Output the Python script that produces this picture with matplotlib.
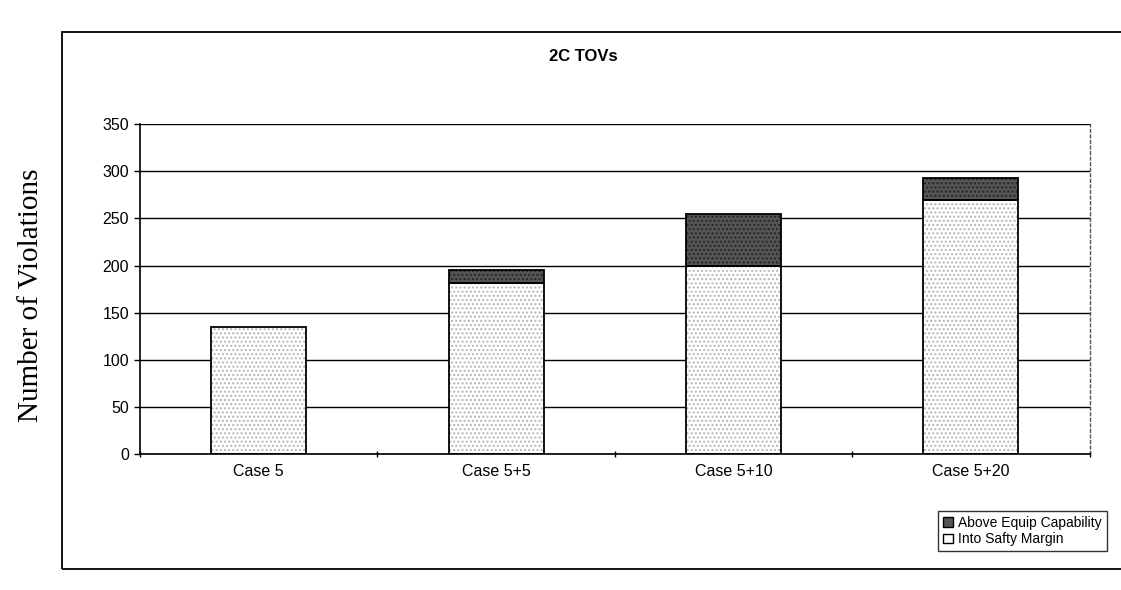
import matplotlib.pyplot as plt
from matplotlib.patches import Patch, Rectangle

# values (relative to the local gridlines)
cases = ["Case 5", "Case 5+5", "Case 5+10", "Case 5+20"]
safety_margin = [135, 181, 200, 269]   # Into Safty Margin
above_equip = [0, 14, 55, 24]          # Above Equip Capability
y_ticks = [0, 50, 100, 150, 200, 250, 300, 350]

plt.rcParams['font.family'] = ['Liberation Sans', 'DejaVu Sans']

fig = plt.figure(figsize=(11.21, 5.90), dpi=100)
ax = fig.add_axes([0.125, 0.23, 0.847, 0.56])

x = range(len(cases))
w = 0.4
light_c = "#ffffff"
dark_c = "#555555"

# fills with dotted texture, then black outlines on top
ax.bar(x, safety_margin, w, color=light_c, edgecolor="#b5b5b5", hatch="....", linewidth=0, zorder=2)
ax.bar(x, above_equip, w, bottom=safety_margin, color=dark_c, edgecolor="#252525",
       hatch="....", linewidth=0, zorder=2)
ax.bar(x, safety_margin, w, fill=False, edgecolor="black", linewidth=1.3, zorder=3)
ax.bar([i for i in x if above_equip[i] > 0],
       [v for v in above_equip if v > 0], w,
       bottom=[safety_margin[i] for i in x if above_equip[i] > 0],
       fill=False, edgecolor="black", linewidth=1.3, zorder=3)

ax.set_ylim(0, 350)
ax.set_xlim(-0.5, len(cases) - 0.5)
ax.set_yticks(y_ticks)
ax.tick_params(axis="y", labelsize=11.5, length=4, width=1, direction="out", pad=4)
ax.set_xticks(list(x))
ax.set_xticklabels(cases, fontsize=11.5)
ax.tick_params(axis="x", length=0, pad=7)
# category separator ticks like Excel
ax.set_xticks([i + 0.5 for i in range(-1, len(cases))], minor=True)
ax.tick_params(axis="x", which="minor", length=5, width=1, direction="inout")

ax.yaxis.grid(True, color="black", linewidth=1.0)
ax.set_axisbelow(True)
for s in ["left", "bottom"]:
    ax.spines[s].set_linewidth(1.2)
    ax.spines[s].set_color("black")
ax.spines["top"].set_visible(False)
ax.spines["right"].set_linestyle((0, (2, 2)))
ax.spines["right"].set_color("#555555")
ax.spines["right"].set_linewidth(1.0)

fig.text(0.52, 0.905, "2C TOVs", ha="center", va="center", fontsize=12, fontweight="bold")
fig.text(0.028, 0.5, "Number of Violations", rotation=90, ha="center", va="center",
         fontsize=21, family=["Liberation Serif", "DejaVu Serif"])

# outer chart frame
fig.patches.append(Rectangle((0.055, 0.035), 0.95, 0.91, transform=fig.transFigure,
                             fill=False, edgecolor="black", linewidth=1.3))

handles = [Patch(facecolor=dark_c, edgecolor="black", label="Above Equip Capability"),
           Patch(facecolor="white", edgecolor="black", label="Into Safty Margin")]
leg = fig.legend(handles=handles, loc="center", bbox_to_anchor=(0.912, 0.1),
                 fontsize=10, frameon=True, fancybox=False, handlelength=0.7,
                 handleheight=0.7, handletextpad=0.4, labelspacing=0.2,
                 borderpad=0.35, edgecolor="black")
leg.get_frame().set_linewidth(1.0)

fig.savefig("out.png", dpi=100)
